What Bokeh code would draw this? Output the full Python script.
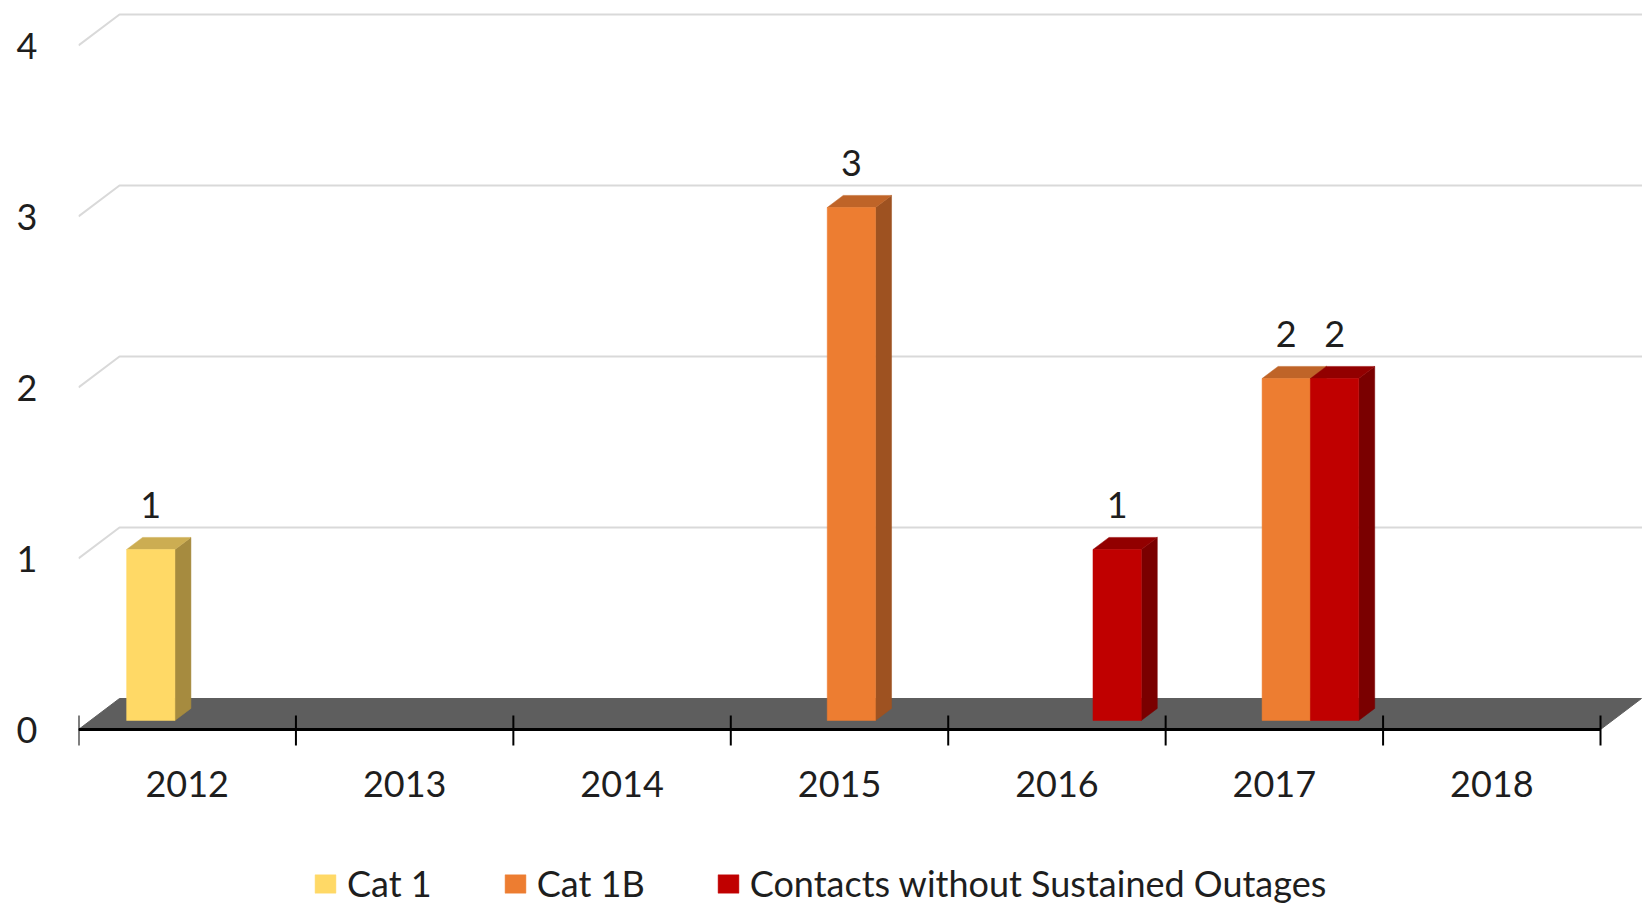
from bokeh.plotting import figure
from bokeh.models import Range1d, FixedTicker, Legend, LegendItem
from bokeh.core.properties import value
from bokeh.embed import file_html
from bokeh.resources import INLINE

# ---- data -------------------------------------------------------------
years = ["2012", "2013", "2014", "2015", "2016", "2017", "2018"]
series_names = ["Cat 1", "Cat 1B", "Contacts without Sustained Outages"]
cat1 = [1, 0, 0, 0, 0, 0, 0]
cat1b = [0, 0, 0, 3, 0, 2, 0]
contacts = [0, 0, 0, 0, 1, 2, 0]
y_ticks = [0, 1, 2, 3, 4]

# front / top / side shades for each series
front_colors = ["#FFD966", "#ED7D31", "#C00000"]
top_colors = ["#CCAD52", "#BF6428", "#920000"]
side_colors = ["#A68B3F", "#9E5221", "#7A0000"]

# ---- geometry (data units) --------------------------------------------
W, H = 1642, 905
LEFT = 78
PX_CAT = 217.43          # pixels per category
PX_UNIT = 171.0          # pixels per value unit
AXIS_PX = 729            # pixel row of the value 0 front edge
DX = 41 / PX_CAT         # depth offset of the back wall, x
DY = 31 / PX_UNIT        # depth offset of the back wall, y
BAR_FRONT, BAR_BACK = 0.29, 0.68
BAR_W = 1 / 4.5
FONT = "Lato"
TXT = "#1E1E1E"

n = len(years)
x_end = (W - LEFT) / PX_CAT
p = figure(width=W, height=H, output_backend="svg", toolbar_location=None,
           x_range=Range1d(0, x_end),
           y_range=Range1d(-(H - AXIS_PX) / PX_UNIT, AXIS_PX / PX_UNIT),
           x_axis_location=None, min_border_left=LEFT, min_border_right=0,
           min_border_top=0, min_border_bottom=0)
p.outline_line_color = None
p.grid.visible = False
p.background_fill_color = "white"

# value axis: labels only
yax = p.yaxis[0]
yax.ticker = FixedTicker(ticks=y_ticks)
yax.axis_line_color = None
yax.major_tick_line_color = None
yax.minor_tick_line_color = None
yax.major_tick_out = 0
yax.major_label_standoff = 41
yax.major_label_text_font = FONT
yax.major_label_text_font_size = "36px"
yax.major_label_text_color = TXT

# back wall gridlines with their diagonal run-in
gx, gy = [], []
for k in y_ticks[1:]:
    gx.append([0, DX, x_end])
    gy.append([k, k + DY, k + DY])
p.multi_line(gx, gy, line_color="#D9D9D9", line_width=2)

# floor
p.patch([0, n, n + DX, DX], [0, 0, DY, DY], fill_color="#5E5E5E", line_color="#5E5E5E")

# bars
front_renderers = []
for si, vals in enumerate([cat1, cat1b, contacts]):
    xs_f0, xs_f1, ys_f0, ys_f1 = [], [], [], []
    top_x, top_y, side_x, side_y = [], [], [], []
    for ci, v in enumerate(vals):
        if v == 0:
            continue
        cx = ci + 0.5 + (si - 1) * BAR_W
        fx0 = cx - BAR_W / 2 + BAR_FRONT * DX
        fx1 = cx + BAR_W / 2 + BAR_FRONT * DX
        fy0 = BAR_FRONT * DY
        fy1 = v + BAR_FRONT * DY
        ddx = (BAR_BACK - BAR_FRONT) * DX
        ddy = (BAR_BACK - BAR_FRONT) * DY
        xs_f0.append(fx0); xs_f1.append(fx1); ys_f0.append(fy0); ys_f1.append(fy1)
        top_x.append([fx0, fx1, fx1 + ddx, fx0 + ddx])
        top_y.append([fy1, fy1, fy1 + ddy, fy1 + ddy])
        side_x.append([fx1, fx1 + ddx, fx1 + ddx, fx1])
        side_y.append([fy0, fy0 + ddy, fy1 + ddy, fy1])
    p.patches(side_x, side_y, fill_color=side_colors[si], line_color=side_colors[si], line_width=0.5)
    p.patches(top_x, top_y, fill_color=top_colors[si], line_color=top_colors[si], line_width=0.5)
    r = p.quad(left=xs_f0, right=xs_f1, bottom=ys_f0, top=ys_f1,
               fill_color=front_colors[si], line_color=front_colors[si], line_width=0.5)
    front_renderers.append(r)

    # value labels
    lx = [(a + b) / 2 for a, b in zip(xs_f0, xs_f1)]
    ly = [t + 45 / PX_UNIT for t in ys_f1]
    lt = [str(v) for v in vals if v != 0]
    p.text(lx, ly, text=lt, text_font=value(FONT), text_font_size="36px",
           text_color=TXT, text_align="center", text_baseline="middle")

# category axis: line, boundary ticks, year labels
p.segment(x0=[0], y0=[0], x1=[n], y1=[0], line_color="black", line_width=3)
bounds = list(range(n + 1))
p.segment(x0=bounds, y0=[-16 / PX_UNIT] * len(bounds), x1=bounds, y1=[14 / PX_UNIT] * len(bounds),
          line_color="black", line_width=2)
p.text([i + 0.5 for i in range(n)], [-54 / PX_UNIT] * n, text=years,
       text_font=value(FONT), text_font_size="36px", text_color=TXT,
       text_align="center", text_baseline="middle")

legend = Legend(items=[LegendItem(label=nm, renderers=[r]) for nm, r in zip(series_names, front_renderers)],
                orientation="horizontal", location=(234, 0), padding=0, margin=0,
                spacing=70, label_standoff=9, glyph_width=26, glyph_height=23,
                label_text_font=FONT, label_text_font_size="36px", label_text_color=TXT,
                border_line_color=None, background_fill_alpha=0)
p.add_layout(legend)

open("out.html", "w").write(file_html(p, INLINE))
